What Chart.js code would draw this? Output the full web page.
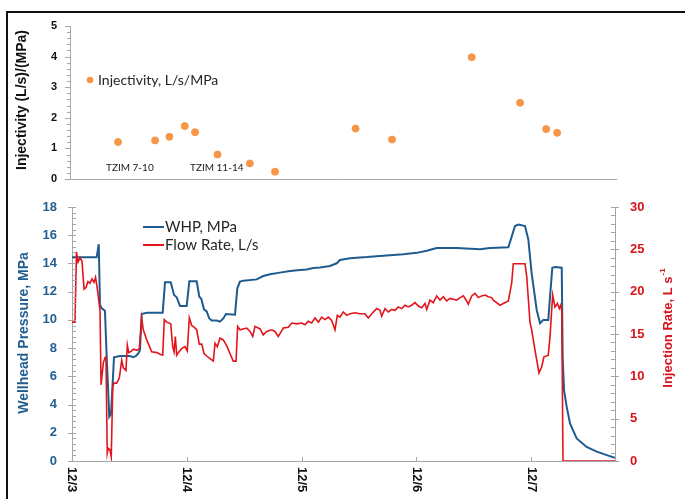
<!DOCTYPE html>
<html>
<head>
<meta charset="utf-8">
<script src="https://cdn.jsdelivr.net/npm/chart.js@4.4.1/dist/chart.umd.min.js"></script>
<style>
  body { margin: 0; background: #fff; }
  #wrap { position: relative; width: 685px; height: 499px; overflow: hidden; background: #fff; }
  #wrap canvas { position: absolute; left: 0; top: 0; }
  #frame { position: absolute; left: 6px; top: 11px; width: 720px; height: 540px;
           border-left: 2px solid #111; border-top: 2px solid #111; }
</style>
</head>
<body>
<div id="wrap">
  <div id="frame"></div>
  <canvas id="topChart" width="685" height="499"></canvas>
  <canvas id="mainChart" width="685" height="499"></canvas>
</div>
<script>
// time axis in days after 12/3 00:00
const dayMax = 4.73;
const xTickLabels = ['12/3', '12/4', '12/5', '12/6', '12/7'];

// injectivity spot values
const injDay   = [0.416, 0.737, 0.861, 0.994, 1.083, 1.278, 1.558, 1.776, 2.474, 2.790, 3.480, 3.899, 4.125, 4.220];
const injValue = [1.21, 1.26, 1.38, 1.73, 1.53, 0.80, 0.51, 0.24, 1.65, 1.29, 3.98, 2.49, 1.63, 1.51];

// wellhead pressure, MPa
const whpDay = [
  0.000, 0.215, 0.233, 0.244, 0.259, 0.287, 0.302, 0.325, 0.340, 0.366,
  0.418, 0.505, 0.534, 0.557, 0.578, 0.592, 0.607, 0.651, 0.790, 0.810,
  0.860, 0.889, 0.912, 0.941, 0.999, 1.022, 1.086, 1.109, 1.126, 1.150,
  1.173, 1.196, 1.217, 1.260, 1.289, 1.318, 1.341, 1.420, 1.440, 1.463,
  1.492, 1.609, 1.666, 1.725, 1.812, 1.899, 1.986, 2.044, 2.102, 2.160,
  2.247, 2.306, 2.334, 2.422, 2.480, 2.567, 2.625, 2.712, 2.799, 2.886,
  3.003, 3.090, 3.177, 3.351, 3.554, 3.641, 3.801, 3.830, 3.859, 3.888,
  3.946, 3.975, 4.004, 4.048, 4.077, 4.105, 4.149, 4.164, 4.184, 4.207,
  4.266, 4.274, 4.286, 4.309, 4.338, 4.396, 4.483, 4.571, 4.658, 4.730];
const whpValue = [
  14.44, 14.44, 15.36, 11.06, 10.82, 10.65, 7.40, 3.14, 3.33, 7.35,
  7.44, 7.44, 7.35, 7.44, 7.63, 7.87, 10.42, 10.51, 10.51, 12.66,
  12.66, 11.76, 11.60, 10.98, 10.98, 12.73, 12.73, 11.64, 11.50, 10.75,
  10.60, 10.10, 9.95, 9.95, 9.87, 10.10, 10.42, 10.37, 12.24, 12.71,
  12.78, 12.87, 13.11, 13.23, 13.35, 13.47, 13.53, 13.57, 13.68, 13.71,
  13.82, 14.01, 14.24, 14.36, 14.40, 14.45, 14.50, 14.55, 14.60, 14.65,
  14.75, 14.90, 15.10, 15.10, 15.00, 15.10, 15.15, 15.90, 16.65, 16.75,
  16.65, 15.70, 13.30, 10.70, 9.76, 10.00, 10.00, 11.65, 13.70, 13.75,
  13.70, 7.40, 5.00, 3.85, 2.67, 1.60, 1.00, 0.66, 0.42, 0.23];

// flow rate, L/s
const flowDay = [
  0.000, 0.026, 0.039, 0.052, 0.070, 0.087, 0.105, 0.122, 0.139, 0.157,
  0.174, 0.192, 0.205, 0.218, 0.244, 0.253, 0.273, 0.287, 0.296, 0.307,
  0.316, 0.331, 0.342, 0.355, 0.366, 0.389, 0.412, 0.433, 0.447, 0.470,
  0.482, 0.494, 0.520, 0.534, 0.564, 0.586, 0.607, 0.621, 0.651, 0.694,
  0.738, 0.767, 0.790, 0.804, 0.825, 0.860, 0.877, 0.889, 0.900, 0.912,
  0.926, 0.956, 0.984, 1.004, 1.022, 1.043, 1.063, 1.086, 1.109, 1.130,
  1.150, 1.173, 1.202, 1.231, 1.246, 1.266, 1.289, 1.318, 1.348, 1.376,
  1.405, 1.429, 1.443, 1.463, 1.492, 1.522, 1.551, 1.574, 1.594, 1.638,
  1.666, 1.696, 1.740, 1.768, 1.797, 1.841, 1.884, 1.914, 1.957, 2.001,
  2.030, 2.058, 2.088, 2.117, 2.146, 2.175, 2.204, 2.233, 2.262, 2.291,
  2.311, 2.334, 2.363, 2.393, 2.422, 2.465, 2.509, 2.552, 2.581, 2.625,
  2.654, 2.683, 2.698, 2.726, 2.755, 2.785, 2.814, 2.842, 2.872, 2.901,
  2.929, 2.959, 2.988, 3.017, 3.046, 3.075, 3.090, 3.118, 3.147, 3.177,
  3.206, 3.235, 3.264, 3.293, 3.321, 3.351, 3.380, 3.409, 3.438, 3.452,
  3.482, 3.510, 3.539, 3.569, 3.598, 3.626, 3.656, 3.670, 3.699, 3.728,
  3.757, 3.787, 3.801, 3.830, 3.844, 3.946, 3.961, 3.990, 4.004, 4.033,
  4.068, 4.091, 4.111, 4.135, 4.149, 4.164, 4.187, 4.207, 4.228, 4.245,
  4.257, 4.266, 4.277, 4.730];
const flowValue = [
  16.4, 16.4, 24.7, 23.5, 24.0, 23.6, 20.3, 20.5, 21.2, 21.0,
  21.5, 21.1, 21.7, 20.6, 17.8, 9.0, 11.6, 12.2, 12.3, 0.9,
  1.5, 1.3, 0.5, 8.8, 9.2, 9.2, 9.8, 11.9, 11.0, 10.7,
  13.7, 12.8, 13.0, 13.2, 13.1, 13.2, 16.9, 15.5, 14.3, 12.9,
  12.8, 12.6, 12.5, 16.7, 16.4, 16.2, 13.5, 12.9, 14.7, 12.5,
  12.8, 13.3, 13.5, 13.0, 16.9, 16.0, 15.8, 15.5, 13.8, 13.8,
  12.7, 12.4, 12.1, 11.8, 13.9, 13.5, 14.5, 14.3, 13.6, 12.7,
  11.8, 11.8, 15.9, 15.5, 15.6, 15.7, 15.3, 14.7, 15.9, 15.6,
  14.9, 15.3, 15.5, 15.3, 14.7, 15.7, 15.8, 16.3, 16.2, 16.3,
  16.1, 16.5, 16.3, 16.9, 16.4, 17.0, 16.7, 17.0, 16.6, 15.5,
  17.2, 17.0, 17.6, 17.2, 17.4, 17.5, 17.4, 17.4, 16.9, 17.6,
  18.0, 17.8, 17.1, 18.0, 17.6, 17.9, 17.8, 18.2, 18.0, 18.4,
  18.2, 18.4, 18.7, 18.3, 18.1, 18.6, 17.9, 19.0, 18.7, 19.5,
  19.0, 19.4, 18.9, 19.2, 19.1, 19.0, 19.3, 19.5, 18.9, 18.5,
  19.5, 19.8, 19.3, 19.5, 19.6, 19.4, 19.3, 19.0, 18.7, 18.4,
  18.6, 18.8, 18.9, 21.0, 23.3, 23.3, 21.8, 16.3, 15.5, 13.1,
  10.4, 11.1, 12.3, 12.4, 12.5, 14.7, 19.6, 18.2, 18.6, 18.0,
  18.4, 17.8, 0, 0];

const FONT = 'Lato, "Liberation Sans", sans-serif';
const BOLD = '"Liberation Sans", Arial, sans-serif';
const BLUE = '#1f5b8e';
const BLUE_TXT = '#215f92';
const RED = '#e3141c';
const RED_TXT = '#d7141c';
const ORANGE = '#f79646';
const AXIS = '#a6a6a6';

const pairs = (xs, ys) => xs.map((x, i) => ({ x: x, y: ys[i] }));

function drawText(ctx, t) {
  ctx.save();
  ctx.translate(t.x, t.y);
  if (t.rot) ctx.rotate(t.rot);
  ctx.font = t.font;
  ctx.fillStyle = t.color;
  ctx.textBaseline = 'middle';
  ctx.textAlign = t.align || 'left';
  if (t.sup) {
    const w1 = ctx.measureText(t.text).width;
    ctx.font = t.supFont;
    const w2 = ctx.measureText(t.sup).width;
    const x0 = -(w1 + w2 + 1) / 2;
    ctx.textAlign = 'left';
    ctx.font = t.font;
    ctx.fillText(t.text, x0, 0);
    ctx.font = t.supFont;
    ctx.fillText(t.sup, x0 + w1 + 1, -5);
  } else {
    ctx.fillText(t.text, 0, 0);
  }
  ctx.restore();
}

// tick marks, rotated date labels, titles and legends
const decor = {
  id: 'decor',
  afterDraw(chart, args, opts) {
    const ctx = chart.ctx;
    ctx.save();
    ctx.strokeStyle = AXIS;
    ctx.lineWidth = 1;
    (opts.ticks || []).forEach(t => {
      const s = chart.scales[t.axis];
      ctx.beginPath();
      const n = Math.round((s.max - s.min) / t.minor);
      for (let k = 0; k <= n; k++) {
        const v = s.min + k * t.minor;
        if (v > s.max + 1e-9) break;
        const major = Math.abs(v / t.major - Math.round(v / t.major)) < 1e-6;
        const span = major ? t.majorSpan : t.minorSpan;
        if (!span) continue;
        const p = Math.round(s.getPixelForValue(v)) + 0.5;
        if (t.axis === 'x') {
          ctx.moveTo(p, s.top + span[0]);
          ctx.lineTo(p, s.top + span[1]);
        } else {
          const x0 = t.side === 'right' ? s.left : s.right;
          ctx.moveTo(x0 + span[0], p);
          ctx.lineTo(x0 + span[1], p);
        }
      }
      ctx.stroke();
    });

    if (opts.xLabels) {
      const s = chart.scales.x;
      opts.xLabels.labels.forEach((lab, i) => {
        drawText(ctx, { text: lab, x: s.getPixelForValue(i), y: opts.xLabels.y, rot: Math.PI / 2,
          font: opts.xLabels.font, color: opts.xLabels.color });
      });
    }

    (opts.lines || []).forEach(l => {
      ctx.strokeStyle = l.color;
      ctx.lineWidth = 2;
      ctx.beginPath();
      ctx.moveTo(l.x0, l.y);
      ctx.lineTo(l.x1, l.y);
      ctx.stroke();
    });

    (opts.dots || []).forEach(d => {
      ctx.fillStyle = d.color;
      ctx.beginPath();
      ctx.arc(d.x, d.y, d.r, 0, Math.PI * 2);
      ctx.fill();
    });

    (opts.texts || []).forEach(t => drawText(ctx, t));
    ctx.restore();
  }
};

// upper panel: injectivity
new Chart(document.getElementById('topChart'), {
  type: 'scatter',
  data: {
    datasets: [{
      label: 'Injectivity, L/s/MPa',
      data: pairs(injDay, injValue),
      backgroundColor: ORANGE,
      borderColor: ORANGE,
      pointRadius: 3.5,
      pointHoverRadius: 3.5
    }]
  },
  options: {
    responsive: false,
    animation: false,
    layout: { padding: { left: 0, right: 69, top: 26, bottom: 320 } },
    plugins: {
      legend: { display: false },
      tooltip: { enabled: false },
      decor: {
        ticks: [{ axis: 'y', side: 'left', major: 1, minor: 0.2, majorSpan: [-5, 0], minorSpan: [-3, 0] }],
        dots: [{ x: 90, y: 80, r: 3.3, color: ORANGE }],
        texts: [
          { text: 'Injectivity, L/s/MPa', x: 98, y: 80, font: '14px ' + FONT, color: '#262626' },
          { text: 'TZIM 7-10', x: 106, y: 168, font: '10px ' + FONT, color: '#1a1a1a' },
          { text: 'TZIM 11-14', x: 190, y: 168, font: '10px ' + FONT, color: '#1a1a1a' },
          { text: 'Injectivity (L/s)/(MPa)', x: 22, y: 100, rot: -Math.PI / 2,
            font: 'bold 14px ' + BOLD, color: '#111', align: 'center' }
        ]
      }
    },
    scales: {
      x: {
        type: 'linear', min: 0, max: dayMax,
        grid: { display: false, drawTicks: false },
        border: { color: AXIS },
        ticks: { display: false },
        afterFit: s => { s.height = 0; }
      },
      y: {
        min: 0, max: 5,
        grid: { display: false, drawTicks: false },
        border: { color: AXIS },
        ticks: { stepSize: 1, padding: 13, color: '#111', font: { family: BOLD, size: 11, weight: 'bold' } },
        afterFit: s => { s.width = 70; }
      }
    }
  },
  plugins: [decor]
});

// lower panel: pressure and flow
new Chart(document.getElementById('mainChart'), {
  type: 'line',
  data: {
    datasets: [{
      label: 'WHP, MPa',
      data: pairs(whpDay, whpValue),
      yAxisID: 'y',
      borderColor: BLUE,
      borderWidth: 2,
      pointRadius: 0,
      tension: 0,
      order: 1
    }, {
      label: 'Flow Rate, L/s',
      data: pairs(flowDay, flowValue),
      yAxisID: 'y1',
      borderColor: RED,
      borderWidth: 1.6,
      pointRadius: 0,
      tension: 0,
      order: 0
    }]
  },
  options: {
    responsive: false,
    animation: false,
    layout: { padding: { left: 0, right: 0, top: 207, bottom: 0 } },
    plugins: {
      legend: { display: false },
      tooltip: { enabled: false },
      decor: {
        ticks: [
          { axis: 'y', side: 'left', major: 2, minor: 0.4, majorSpan: [-4, 4], minorSpan: [0, 4] },
          { axis: 'y1', side: 'right', major: 5, minor: 1, majorSpan: [-4, 4], minorSpan: [-4, 0] },
          { axis: 'x', major: 1, minor: 1, majorSpan: [-4, 0] }
        ],
        xLabels: { labels: xTickLabels, y: 467, font: 'bold 13px ' + BOLD, color: '#111' },
        lines: [
          { x0: 143, x1: 164, y: 227, color: BLUE },
          { x0: 143, x1: 164, y: 245, color: RED }
        ],
        texts: [
          { text: 'WHP, MPa', x: 165, y: 227, font: '15px ' + FONT, color: '#262626' },
          { text: 'Flow Rate, L/s', x: 165, y: 245, font: '15px ' + FONT, color: '#262626' },
          { text: 'Wellhead Pressure, MPa', x: 24, y: 333, rot: -Math.PI / 2,
            font: 'bold 14px ' + BOLD, color: BLUE_TXT, align: 'center' },
          { text: 'Injection Rate, L s', sup: '-1', x: 668, y: 328, rot: -Math.PI / 2,
            font: 'bold 13px ' + BOLD, supFont: 'bold 8px ' + BOLD, color: RED_TXT, align: 'center' }
        ]
      }
    },
    scales: {
      x: {
        type: 'linear', min: 0, max: dayMax,
        grid: { display: false, drawTicks: false },
        border: { color: AXIS },
        ticks: { display: false, stepSize: 1 },
        afterFit: s => { s.height = 38; }
      },
      y: {
        position: 'left', min: 0, max: 18,
        grid: { display: false, drawTicks: false },
        border: { color: AXIS },
        ticks: { stepSize: 2, padding: 15, color: BLUE_TXT, font: { family: BOLD, size: 13, weight: 'bold' } },
        afterFit: s => { s.width = 72; }
      },
      y1: {
        position: 'right', min: 0, max: 30,
        grid: { display: false, drawTicks: false },
        border: { color: AXIS },
        ticks: { stepSize: 5, padding: 15, color: RED_TXT, font: { family: BOLD, size: 13, weight: 'bold' } },
        afterFit: s => { s.width = 70; }
      }
    }
  },
  plugins: [decor]
});
</script>
</body>
</html>
